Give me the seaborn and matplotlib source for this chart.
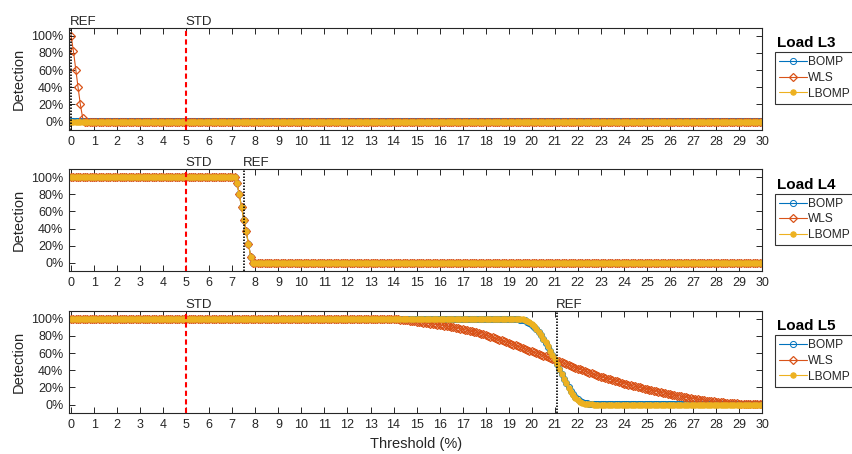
import numpy as np
import pandas as pd
import seaborn as sns
import matplotlib
matplotlib.use("Agg")
import matplotlib.pyplot as plt

# ---------------- data ----------------
STEP = 0.1
N_POINTS = 301                      # thresholds 0.0 ... 30.0 (%)
THRESHOLDS = np.round(np.arange(N_POINTS) * STEP, 1)

SERIES = ["BOMP", "WLS", "LBOMP"]
COLORS = {"BOMP": "#0072BD", "WLS": "#D95319", "LBOMP": "#EDB120"}
LOADS = ["Load L3", "Load L4", "Load L5"]
REF_POS = [0.0, 7.5, 21.1]
STD_POS = 5.0
Y_TICKS = [0, 20, 40, 60, 80, 100]
Y_TICK_LABELS = ["0%", "20%", "40%", "60%", "80%", "100%"]
X_TICKS = list(range(0, 31))

# Load L3
L3_WLS_START, L3_WLS_DROP = 0.0, [100, 82, 60.5, 40, 20, 4.3]
L3_BOMP_LEVEL = 0.7
L3_LBOMP_LEVEL = 0.0

# Load L4 (all methods identical)
L4_START, L4_DROP = 7.2, [93, 80, 65, 50, 37, 22, 7]

# Load L5
L5_LBOMP_START = 19.5
L5_LBOMP_DROP = [99.8, 99.5, 98.8, 97.5, 95.8,
                 93.7, 91.2, 88.3, 85.0, 81.2, 77.0, 72.5, 67.8, 62.8, 57.8,
                 52.6, 47.3, 41.5, 35.7, 30.0, 24.8, 19.8, 15.2, 11.2, 7.8,
                 5.2, 3.3, 2.0, 1.2, 0.7, 0.4, 0.2]
L5_BOMP_START = 19.5
L5_BOMP_PLATEAU, L5_BOMP_TAIL = 99.3, 0.7
L5_BOMP_DROP = [99.1, 98.8, 98.1, 96.8, 95.1,
                93.0, 90.6, 87.7, 84.5, 80.7, 76.6, 72.1, 67.5, 62.6, 57.7,
                52.5, 47.3, 41.6, 35.9, 30.3, 25.2, 20.3, 15.7, 11.8, 8.5,
                5.9, 4.0, 2.7, 1.8, 1.3, 1.0, 0.8]
L5_WLS_START = 13.0
L5_WLS_DROP = [
    100, 100, 100, 100, 99.9, 99.9, 99.9, 99.8, 99.8, 99.7,            # 13
    99.6, 99.5, 99.3, 99.1, 98.9, 98.6, 98.3, 98.0, 97.6, 97.2,        # 14
    96.8, 96.5, 96.1, 95.7, 95.3, 94.9, 94.5, 94.1, 93.7, 93.4,        # 15
    93.0, 92.6, 92.1, 91.7, 91.2, 90.7, 90.2, 89.7, 89.1, 88.6,        # 16
    88.0, 87.4, 86.8, 86.2, 85.5, 84.8, 84.1, 83.4, 82.6, 81.8,        # 17
    81.0, 80.2, 79.3, 78.4, 77.5, 76.6, 75.7, 74.8, 73.9, 73.0,        # 18
    72.0, 71.0, 70.0, 69.0, 68.0, 67.0, 66.0, 65.0, 64.0, 63.0,        # 19
    62.0, 61.0, 60.1, 59.1, 58.2, 57.2, 56.2, 55.3, 54.3, 53.4,        # 20
    52.4, 51.4, 50.3, 49.3, 48.2, 47.2, 46.2, 45.1, 44.1, 43.0,        # 21
    42.0, 41.0, 40.1, 39.1, 38.2, 37.2, 36.3, 35.3, 34.4, 33.4,        # 22
    32.5, 31.7, 30.9, 30.1, 29.3, 28.5, 27.7, 26.9, 26.1, 25.3,        # 23
    24.5, 23.8, 23.1, 22.5, 21.8, 21.2, 20.5, 19.9, 19.2, 18.6,        # 24
    18.0, 17.4, 16.8, 16.2, 15.6, 15.0, 14.4, 13.8, 13.2, 12.6,        # 25
    12.0, 11.5, 11.0, 10.5, 10.0, 9.5, 9.0, 8.5, 8.0, 7.5,             # 26
    7.0, 6.6, 6.2, 5.8, 5.4, 5.0, 4.6, 4.3, 3.9, 3.6,                  # 27
    3.3, 3.0, 2.8, 2.5, 2.3, 2.1, 1.9, 1.7, 1.5, 1.3,                  # 28
    1.2, 1.1, 1.0, 0.9, 0.8, 0.7, 0.6, 0.5, 0.4, 0.35,                 # 29
    0.3]                                                               # 30


def build(before, start, drop, after):
    i0 = int(round(start / STEP))
    vals = [before] * i0 + list(drop)
    vals += [after] * (N_POINTS - len(vals))
    assert len(vals) == N_POINTS
    return np.array(vals, dtype=float)


DATA = {
    "Load L3": {
        "BOMP": build(L3_BOMP_LEVEL, 0.0, [], L3_BOMP_LEVEL),
        "WLS": build(100, L3_WLS_START, L3_WLS_DROP, 0),
        "LBOMP": build(L3_LBOMP_LEVEL, 0.0, [], L3_LBOMP_LEVEL),
    },
    "Load L4": {
        "BOMP": build(100, L4_START, L4_DROP, 0),
        "WLS": build(100, L4_START, L4_DROP, 0),
        "LBOMP": build(100, L4_START, L4_DROP, 0),
    },
    "Load L5": {
        "BOMP": build(L5_BOMP_PLATEAU, L5_BOMP_START, L5_BOMP_DROP, L5_BOMP_TAIL),
        "WLS": build(100, L5_WLS_START, L5_WLS_DROP, 0.3),
        "LBOMP": build(100, L5_LBOMP_START, L5_LBOMP_DROP, 0),
    },
}

# ---------------- style ----------------
sns.set_theme(style="white")
plt.rcParams["font.family"] = ["Liberation Sans", "DejaVu Sans"]
TXT = "#262626"
plt.rcParams.update({
    "axes.edgecolor": TXT, "axes.linewidth": 0.8,
    "xtick.color": TXT, "ytick.color": TXT,
    "text.color": TXT, "axes.labelcolor": TXT,
})

MARKERS = {
    "BOMP": dict(marker="o", markersize=4.4, markerfacecolor="none", markeredgewidth=0.7),
    "WLS": dict(marker="D", markersize=4.5, markerfacecolor="none", markeredgewidth=0.9),
    "LBOMP": dict(marker="o", markersize=3.9, markeredgewidth=0.7),
}

fig = plt.figure(figsize=(8.52, 4.54), dpi=100)
W, H = 852, 454
ax_left, ax_right = 69.3, 762.0
ax_tops = [27.7, 169.0, 310.7]
ax_h = 102.0

for k, load in enumerate(LOADS):
    top = ax_tops[k]
    ax = fig.add_axes([ax_left / W, 1 - (top + ax_h) / H,
                       (ax_right - ax_left) / W, ax_h / H])
    for name in SERIES:
        c = COLORS[name]
        mk = dict(MARKERS[name])
        mk.setdefault("markerfacecolor", c)
        sns.lineplot(x=THRESHOLDS, y=DATA[load][name], ax=ax, color=c,
                     linewidth=0.8, markeredgecolor=c,
                     label=name, **mk)
    ax.axvline(STD_POS, color="#FF0000", lw=1.5, ls=(0, (2.5, 1.6)), zorder=5)
    ax.axvline(REF_POS[k], color="black", lw=1.2, ls=(0, (0.9, 0.9)), zorder=5)
    for xpos, lab in ((STD_POS, "STD"), (REF_POS[k], "REF")):
        ax.annotate(lab, xy=(xpos, 1), xycoords=("data", "axes fraction"),
                    xytext=(-0.8, 1.9), textcoords="offset points",
                    ha="left", va="baseline", fontsize=9.5)
    ax.set_xlim(-0.08, 30.0)
    ax.set_ylim(-9.5, 109.5)
    ax.set_xticks(X_TICKS)
    ax.set_xticklabels([str(t) for t in X_TICKS])
    ax.set_yticks(Y_TICKS)
    ax.set_yticklabels(Y_TICK_LABELS)
    ax.tick_params(axis="both", direction="in", length=4, width=0.7,
                   labelsize=9, top=True, right=True, bottom=True, left=True)
    ax.tick_params(axis="x", pad=4.5)
    ax.tick_params(axis="y", pad=4.3)
    for s in ax.spines.values():
        s.set_visible(True)
        s.set_color(TXT)
        s.set_linewidth(0.8)
    ax.set_ylabel("Detection", fontsize=10.5, labelpad=4)
    ax.set_xlabel("Threshold (%)" if k == 2 else "", fontsize=10.5)

    leg = ax.legend(loc="upper left",
                    bbox_to_anchor=((775 - ax_left) / (ax_right - ax_left), 1 - 24.6 / ax_h),
                    borderaxespad=0, fontsize=8.6, frameon=True, fancybox=False,
                    handlelength=2.3, handletextpad=0.15, labelspacing=0.3,
                    borderpad=0.35)
    leg.get_frame().set_edgecolor("black")
    leg.get_frame().set_linewidth(0.8)
    ax.text((777 - ax_left) / (ax_right - ax_left), 1 - 19.6 / ax_h, load,
            transform=ax.transAxes, ha="left", va="baseline",
            fontsize=11, fontweight="bold", color="black")

fig.savefig("out.png", dpi=100)
